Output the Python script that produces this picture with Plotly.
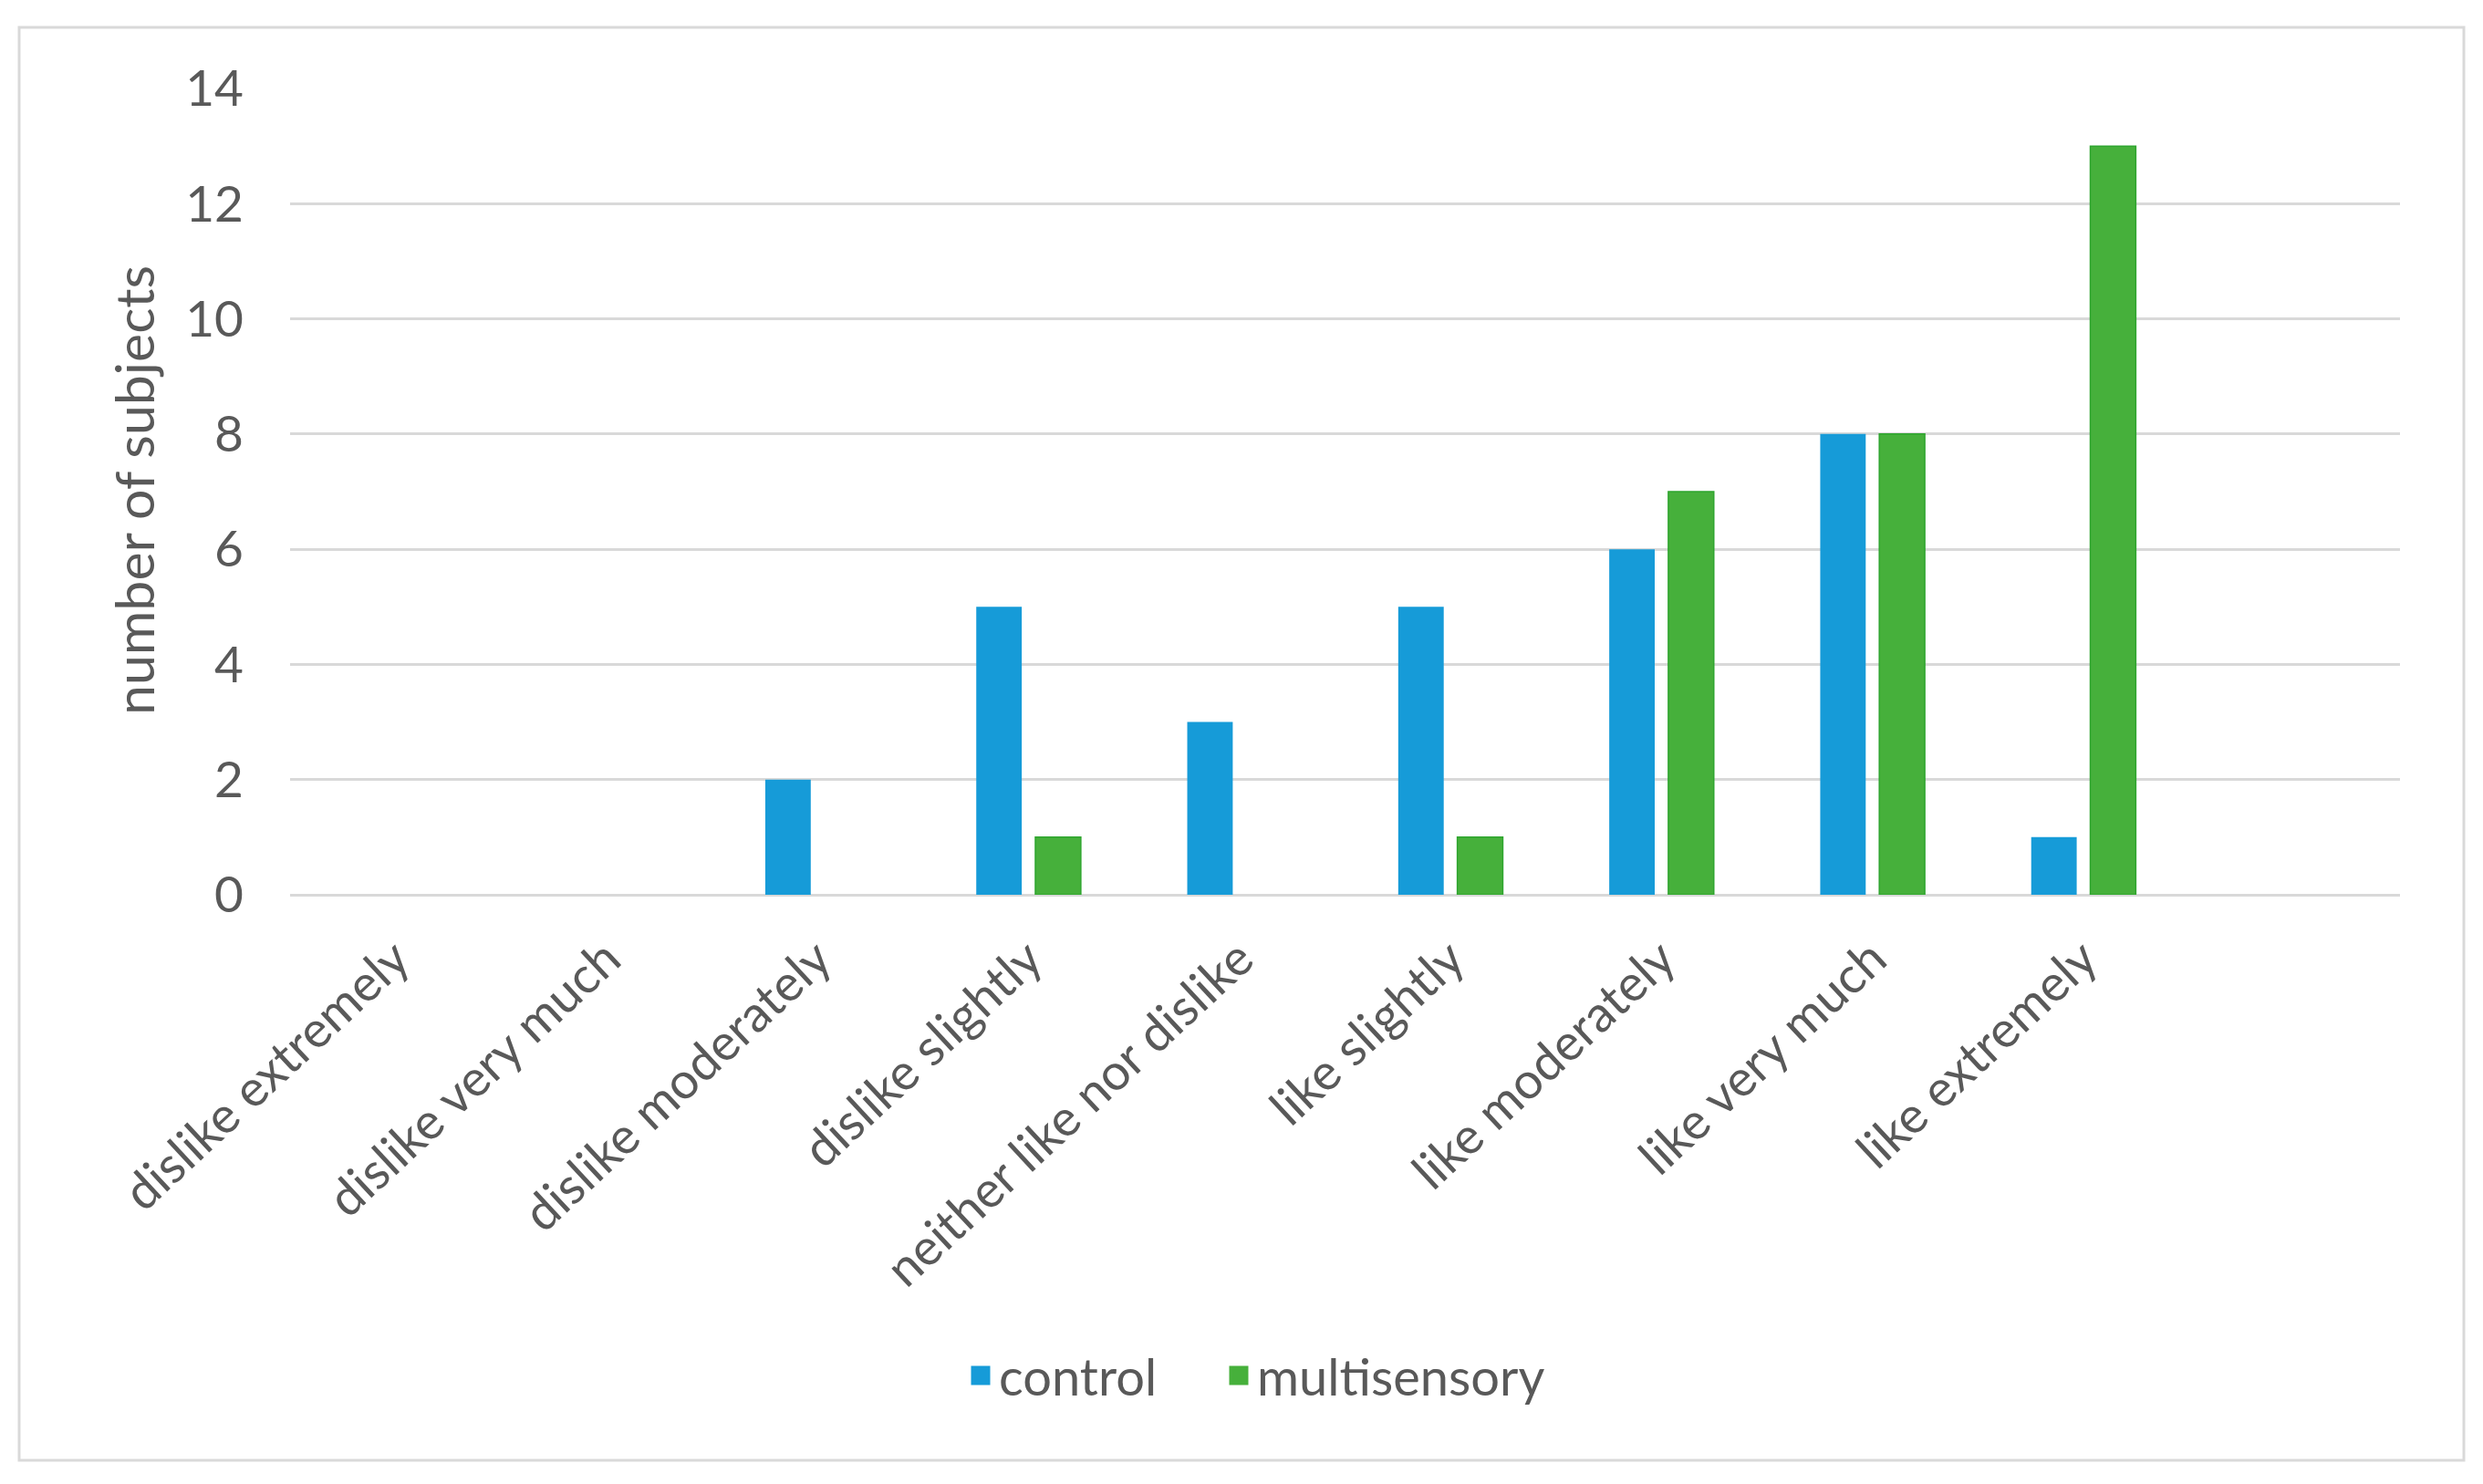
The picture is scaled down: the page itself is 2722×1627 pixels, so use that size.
import plotly.graph_objects as go

categories = ["dislike extremely", "dislike very much", "dislike moderately",
              "dislike slightly", "neither like nor dislike", "like slightly",
              "like moderately", "like very much", "like extremely"]
control = [0, 0, 2, 5, 3, 5, 6, 8, 1]
multisensory = [0, 0, 0, 1, 0, 1, 7, 8, 13]
y_ticks = [0, 2, 4, 6, 8, 10, 12, 14]

W, H = 2722, 1627
OFF = 8  # default page body margin
# desired page positions of the plot area
PL, PR, PT, PB = 318, 2631, 97, 981
L, T = PL - OFF, PT - OFF
R = W - (PR - OFF)
B = H - (PB - OFF)
pw = PR - PL
ph = PB - PT

def px_x(x):
    return (x - PL) / pw

def px_y(y):
    return (PB - y) / ph

FONT = "Lato"
GREY = "#595959"
BLUE = "#169bd8"
GREEN = "#46b03b"

fig = go.Figure()
fig.add_trace(go.Bar(name="control", x=categories, y=control, legendgroup="c", showlegend=False,
                     offsetgroup="c", marker=dict(color=BLUE, line=dict(width=0))))
fig.add_trace(go.Bar(name="multisensory", x=categories, y=multisensory, legendgroup="m",
                     showlegend=False, offsetgroup="m",
                     marker=dict(color=GREEN,
                                 line=dict(color="#2ea52e",
                                           width=[1.5 if v > 0 else 0 for v in multisensory]))))
# legend entries
fig.add_trace(go.Scatter(name="control", x=[None], y=[None], mode="markers", legendgroup="c",
                         legendwidth=238,
                         marker=dict(symbol="square", size=16, color=BLUE,
                                     line=dict(color=BLUE, width=5))))
fig.add_trace(go.Scatter(name="multisensory", x=[None], y=[None], mode="markers", legendgroup="m",
                         legendwidth=340,
                         marker=dict(symbol="square", size=16, color=GREEN,
                                     line=dict(color=GREEN, width=5))))

fig.update_layout(
    width=W, height=H,
    margin=dict(l=L, r=R, t=T, b=B, autoexpand=False),
    paper_bgcolor="white", plot_bgcolor="white",
    barmode="group", bargap=0.44, bargroupgap=0.23,
    font=dict(family=FONT, color=GREY, size=55),
    showlegend=True,
    legend=dict(orientation="h", x=px_x(1055), y=px_y(1508), xanchor="left", yanchor="middle",
                font=dict(family=FONT, size=56, color=GREY), bgcolor="rgba(0,0,0,0)"),
    xaxis=dict(type="category", categoryorder="array", categoryarray=categories,
               range=[-0.5, 9.5], tickangle=-43, showgrid=False, showline=False,
               ticks="", tickfont=dict(family=FONT, size=55, color=GREY),
               ticklabelstandoff=26),
    yaxis=dict(range=[0, 14], tickvals=y_ticks, showgrid=True, gridcolor="#d9d9d9", gridwidth=3,
               zeroline=True, zerolinecolor="#d9d9d9", zerolinewidth=3, showline=False,
               ticks="", tickfont=dict(family=FONT, size=55, color=GREY),
               ticklabelstandoff=50),
    shapes=[dict(type="rect", xref="paper", yref="paper",
                 x0=px_x(21), x1=px_x(2701), y0=px_y(1601), y1=px_y(30),
                 line=dict(color="#d9d9d9", width=3), fillcolor="rgba(0,0,0,0)", layer="below")],
    annotations=[dict(text="number of subjects", xref="paper", yref="paper",
                      x=px_x(146), y=px_y(538), xanchor="center", yanchor="middle",
                      textangle=-90, showarrow=False,
                      font=dict(family=FONT, size=59, color=GREY))],
)

fig.write_html("out.html")
